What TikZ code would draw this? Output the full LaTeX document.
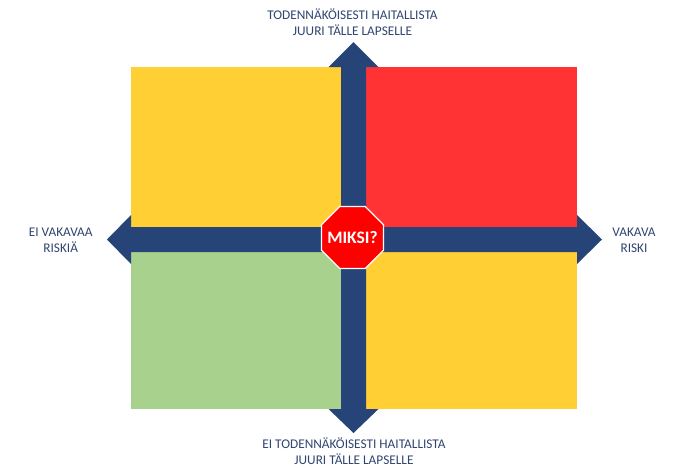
\documentclass[tikz,border=0pt]{standalone}
\usepackage{fontspec}
\setmainfont{Carlito}
\usetikzlibrary{calc, shapes.geometric}

\definecolor{riskyellow}{HTML}{FFCF33}
\definecolor{riskred}{HTML}{FF3333}
\definecolor{riskgreen}{HTML}{A9D18E}
\definecolor{arrownavy}{HTML}{264478}
\definecolor{labelnavy}{HTML}{2F4570}

\tikzset{
    axis label/.style = {align = center, text = labelnavy, font = \fontsize{13.3}{16}\selectfont, inner sep = 0pt}
}

\begin{document}
\begin{tikzpicture}[x = 1pt, y = -1pt]
            \useasboundingbox (0, 0) rectangle (674, 467);
            
            \coordinate (centre) at (352.5, 237.5);
            
            \fill[riskyellow] (131, 67) rectangle (341, 227);
            \fill[riskred] (366, 67) rectangle (577, 227);
            \fill[riskgreen] (131, 252) rectangle (341, 409);
            \fill[riskyellow] (366, 252) rectangle (577, 409);
            
            % cross with four heads
            \fill[arrownavy] (353.5, 42) -- (378.5, 67) -- (366, 67) -- (366, 227)
                -- (577, 227) -- (577, 215) -- (602, 239.5) -- (577, 264) -- (577, 252)
                -- (366, 252) -- (366, 409) -- (378.5, 409) -- (353.5, 433) -- (328.5, 409) -- (341, 409)
                -- (341, 252) -- (131, 252) -- (131, 264) -- (107, 239.5) -- (131, 215) -- (131, 227)
                -- (341, 227) -- (341, 67) -- (328.5, 67) -- cycle;
            
            \node[regular polygon, regular polygon sides = 8, fill = red, draw = white, line width = 1.2pt, minimum size = 67pt, inner sep = 0pt, text = white, font = \fontsize{17.5}{18}\selectfont\bfseries] (stop) at (centre) {\makebox[0pt]{MIKSI?}};
            
            \node[axis label] (top_label) at (352.5, 22) {TODENNÄKÖISESTI HAITALLISTA\\JUURI TÄLLE LAPSELLE};
            \node[axis label] (bottom_label) at (354, 451) {EI TODENNÄKÖISESTI HAITALLISTA\\JUURI TÄLLE LAPSELLE};
            \node[axis label] (left_label) at (60.7, 240) {EI VAKAVAA\\RISKIÄ};
            \node[axis label] (right_label) at (634, 240) {VAKAVA\\RISKI};
        \end{tikzpicture}
\end{document}
